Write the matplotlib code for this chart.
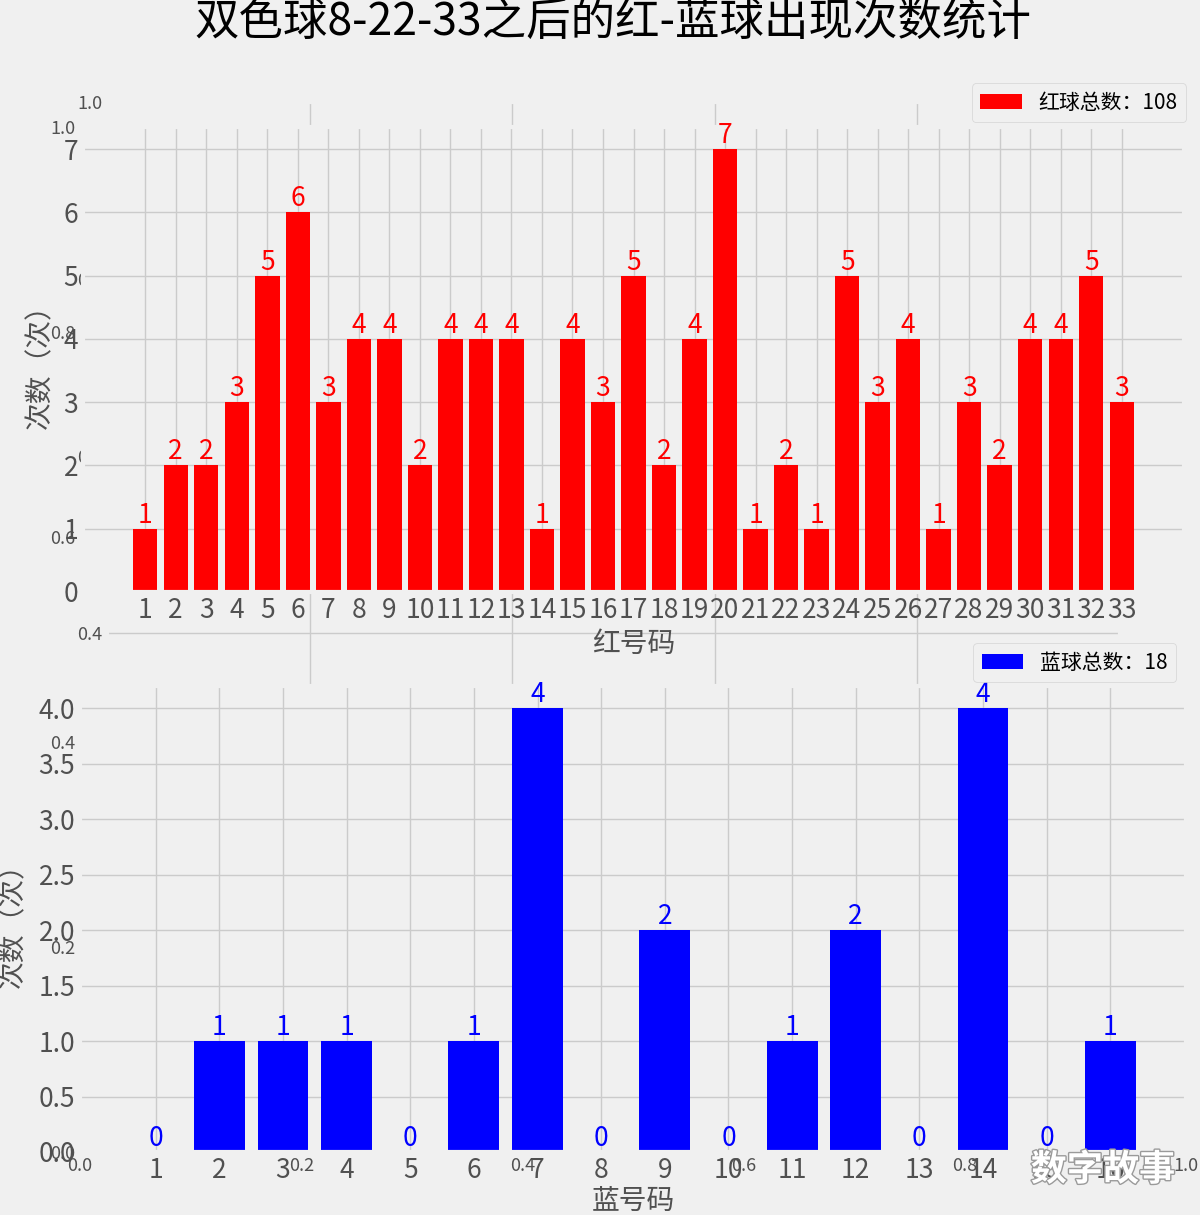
import matplotlib
matplotlib.use('Agg')
import matplotlib.pyplot as plt
import matplotlib.patheffects as pe

plt.style.use('fivethirtyeight')
plt.rcParams['font.family'] = ['Noto Sans CJK SC', 'DejaVu Sans']
plt.rcParams['axes.unicode_minus'] = False

# data
red_nums = list(range(1, 34))
red_counts = [1, 2, 2, 3, 5, 6, 3, 4, 4, 2, 4, 4, 4, 1, 4, 3, 5, 2, 4, 7,
              1, 2, 1, 5, 3, 4, 1, 3, 2, 4, 4, 5, 3]
red_yticks = [0, 1, 2, 3, 4, 5, 6, 7]
blue_nums = list(range(1, 17))
blue_counts = [0, 1, 1, 1, 0, 1, 4, 0, 2, 0, 1, 2, 0, 4, 0, 1]
blue_yticks = [0.0, 0.5, 1.0, 1.5, 2.0, 2.5, 3.0, 3.5, 4.0]

title = '双色球8-22-33之后的红-蓝球出现次数统计'
ylab = '次数（次）'
tick_gray = '#505050'

W, H = 1200, 1215
fig = plt.figure(figsize=(W / 100, H / 100), dpi=100)


def rect(l, t, r, b):
    return [l / W, 1 - b / H, (r - l) / W, (b - t) / H]


# two empty axes left behind underneath (0..1 ticks show through)
bg1 = fig.add_axes(rect(80, 127, 1186, 1152))
bg2 = fig.add_axes(rect(107, 102, 1120, 987))
for a in (bg1, bg2):
    a.tick_params(labelsize=13, colors=tick_gray)

# red balls
ax1 = fig.add_axes(rect(83, 127, 1184, 592))
ax1.bar(red_nums, red_counts, width=0.8, color='red', label='红球总数：%d' % sum(red_counts))
for x, y in zip(red_nums, red_counts):
    ax1.text(x, y, str(y), ha='center', va='bottom', color='red', fontsize=19)
ax1.set_xticks(red_nums)
ax1.set_yticks(red_yticks)
ax1.tick_params(labelsize=19, colors=tick_gray)
ax1.set_xlabel('红号码', fontsize=20, color=tick_gray)
ax1.set_ylabel(ylab, fontsize=20, color=tick_gray)
ax1.xaxis.set_label_coords(0.5, -0.08)
ax1.yaxis.set_label_coords(-0.025, 0.5)
ax1.legend(loc='lower right', bbox_to_anchor=(1186 / W, 1 - 122 / H),
           bbox_transform=fig.transFigure, borderaxespad=0, fontsize=15,
           facecolor='#f0f0f0', edgecolor='#d4d4d4', framealpha=1)

# blue balls
ax2 = fig.add_axes(rect(80, 686, 1186, 1152))
ax2.bar(blue_nums, blue_counts, width=0.8, color='blue', label='蓝球总数：%d' % sum(blue_counts))
for x, y in zip(blue_nums, blue_counts):
    ax2.text(x, y, str(y), ha='center', va='bottom', color='blue', fontsize=19)
ax2.set_xticks(blue_nums)
ax2.set_yticks(blue_yticks)
ax2.tick_params(labelsize=19, colors=tick_gray)
ax2.set_xlabel('蓝号码', fontsize=20, color=tick_gray)
ax2.set_ylabel(ylab, fontsize=20, color=tick_gray)
ax2.xaxis.set_label_coords(0.5, -0.075)
ax2.yaxis.set_label_coords(-0.047, 0.5)
ax2.legend(loc='lower right', bbox_to_anchor=(1176 / W, 1 - 682 / H),
           bbox_transform=fig.transFigure, borderaxespad=0, fontsize=15,
           facecolor='#f0f0f0', edgecolor='#d4d4d4', framealpha=1)

fig.text(613 / W, 1 - 22 / H, title, ha='center', va='center', fontsize=32, color='black')

# watermark
fig.text(1103 / W, 1 - 1170 / H, '数字故事', ha='center', va='center', fontsize=26,
         fontweight='bold', color='white',
         path_effects=[pe.withStroke(linewidth=2, foreground='#9a9a9a')])

fig.savefig('out.png', dpi=100, facecolor=fig.get_facecolor())
